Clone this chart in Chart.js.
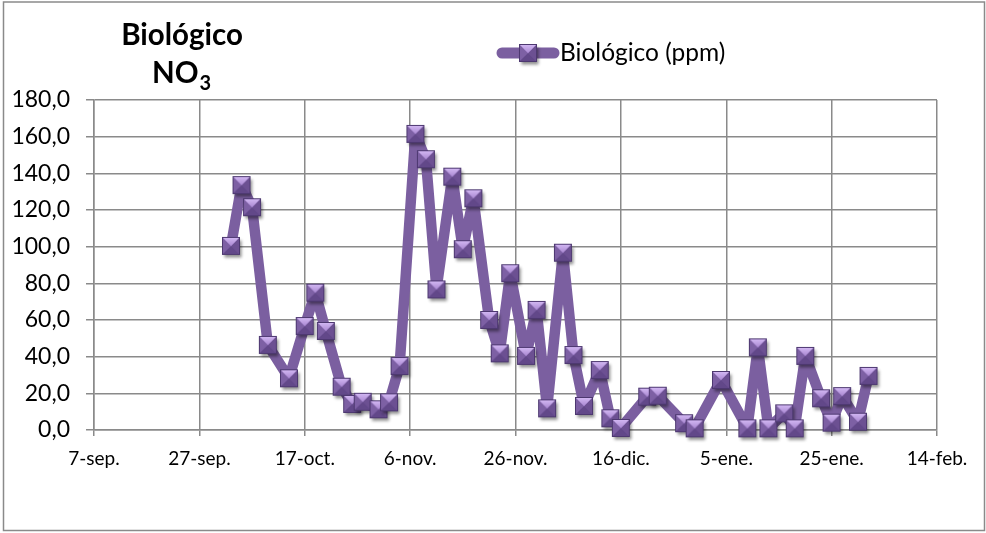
<!DOCTYPE html>
<html>
<head>
<meta charset="utf-8">
<script src="https://cdn.jsdelivr.net/npm/chart.js@4/dist/chart.umd.min.js"></script>
<style>
  html, body { margin: 0; padding: 0; background: #fff; }
  #wrap { width: 986px; height: 533px; }
</style>
</head>
<body>
<div id="wrap"><canvas id="c" width="986" height="533"></canvas></div>
<script>
// Sampling dates (biological treatment) and nitrate concentration, ppm
const sampleDates = [
  '2012-10-03','2012-10-05','2012-10-07','2012-10-10','2012-10-14','2012-10-17',
  '2012-10-19','2012-10-21','2012-10-24','2012-10-26','2012-10-28','2012-10-31',
  '2012-11-02','2012-11-04','2012-11-07','2012-11-09','2012-11-11','2012-11-14',
  '2012-11-16','2012-11-18','2012-11-21','2012-11-23','2012-11-25','2012-11-28',
  '2012-11-30','2012-12-02','2012-12-05','2012-12-07','2012-12-09','2012-12-12',
  '2012-12-14','2012-12-16','2012-12-21','2012-12-23','2012-12-28','2012-12-30',
  '2013-01-04','2013-01-09','2013-01-11','2013-01-13','2013-01-16','2013-01-18',
  '2013-01-20','2013-01-23','2013-01-25','2013-01-27','2013-01-30','2013-02-01'
];
const nitrateValues = [
  100.4, 133.6, 121.5, 46.4, 28.2, 56.7,
  74.9, 54.0, 23.6, 14.2, 15.4, 11.3,
  15.1, 34.9, 161.5, 147.7, 76.7, 138.2,
  98.6, 126.4, 60.0, 41.8, 85.5, 40.4,
  65.5, 11.8, 96.7, 40.9, 13.1, 32.7,
  6.4, 1.1, 18.2, 18.7, 3.7, 0.9,
  27.3, 0.9, 45.1, 0.9, 9.1, 0.9,
  40.4, 17.3, 4.0, 18.5, 4.5, 29.5
];
const axisStartDate = '2012-09-07';
const xTickLabels = ['7-sep.','27-sep.','17-oct.','6-nov.','26-nov.','16-dic.','5-ene.','25-ene.','14-feb.'];
const seriesName = 'Biológico (ppm)';

const DAY = 86400000;
function dayOffset(iso) {
  const p = iso.split('-').map(Number), q = axisStartDate.split('-').map(Number);
  return Math.round((Date.UTC(p[0], p[1] - 1, p[2]) - Date.UTC(q[0], q[1] - 1, q[2])) / DAY);
}
const points = sampleDates.map((d, i) => ({ x: dayOffset(d), y: nitrateValues[i] }));

const LINE = '#7b5fa0';
const FONT = 'Lato, "Open Sans", sans-serif';

// Bevelled square marker with soft drop shadow
function makeMarker() {
  const s = 18, pad = 6;
  const c = document.createElement('canvas');
  c.width = c.height = s + pad * 2;
  const g = c.getContext('2d');
  const x0 = pad, y0 = pad, x1 = pad + s, y1 = pad + s, cx = pad + s / 2, cy = pad + s * 0.52;
  g.save();
  g.shadowColor = 'rgba(0,0,0,0.45)';
  g.shadowBlur = 3; g.shadowOffsetX = 1.5; g.shadowOffsetY = 2.5;
  g.fillStyle = '#70549a';
  g.fillRect(x0, y0, s, s);
  g.restore();
  const tri = (a, b, col) => { g.beginPath(); g.moveTo(a[0], a[1]); g.lineTo(b[0], b[1]); g.lineTo(cx, cy); g.closePath(); g.fillStyle = col; g.fill(); };
  tri([x0, y0], [x0, y1], '#7d60a4');
  tri([x1, y0], [x1, y1], '#6c5092');
  tri([x0, y1], [x1, y1], '#624889');
  const gr = g.createLinearGradient(0, y0, 0, cy);
  gr.addColorStop(0, '#d6bcf6');
  gr.addColorStop(1, '#a886d0');
  tri([x0, y0], [x1, y0], gr);
  g.strokeStyle = '#4d3870';
  g.lineWidth = 1;
  g.strokeRect(x0 + 0.5, y0 + 0.5, s - 1, s - 1);
  return c;
}
const marker = makeMarker();

const decorations = {
  id: 'decorations',
  beforeDraw(chart) {
    const ctx = chart.ctx;
    ctx.save();
    ctx.fillStyle = '#fff';
    ctx.fillRect(0, 0, chart.width, chart.height);
    ctx.strokeStyle = '#8a8a8a';
    ctx.lineWidth = 1.5;
    ctx.strokeRect(3.5, 2, 981, 528.5);
    ctx.restore();
  },
  afterDraw(chart) {
    const ctx = chart.ctx;
    ctx.save();
    // Title: "Biológico" / "NO3" with subscript
    ctx.fillStyle = '#000';
    ctx.textBaseline = 'alphabetic';
    ctx.font = 'bold 29.5px ' + FONT;
    ctx.textAlign = 'center';
    ctx.fillText('Biológico', 182, 45);
    const main = 'NO', sub = '3';
    const wMain = ctx.measureText(main).width;
    ctx.font = 'bold 20px ' + FONT;
    const wSub = ctx.measureText(sub).width;
    const startX = 181 - (wMain + wSub) / 2;
    ctx.textAlign = 'left';
    ctx.font = 'bold 29.5px ' + FONT;
    ctx.fillText(main, startX, 83);
    ctx.font = 'bold 20px ' + FONT;
    ctx.fillText(sub, startX + wMain + 1, 90);

    // Legend
    ctx.strokeStyle = LINE;
    ctx.lineWidth = 11;
    ctx.lineCap = 'round';
    ctx.beginPath();
    ctx.moveTo(502, 53);
    ctx.lineTo(554, 53);
    ctx.stroke();
    ctx.drawImage(marker, 528 - marker.width / 2, 53 - marker.height / 2);
    ctx.fillStyle = '#000';
    ctx.font = '24.5px ' + FONT;
    ctx.textAlign = 'left';
    ctx.textBaseline = 'middle';
    ctx.fillText(seriesName, 560, 53);
    ctx.restore();
  }
};

new Chart(document.getElementById('c'), {
  type: 'line',
  data: {
    datasets: [{
      label: seriesName,
      data: points,
      borderColor: LINE,
      backgroundColor: LINE,
      borderWidth: 10.5,
      borderJoinStyle: 'round',
      borderCapStyle: 'round',
      tension: 0,
      pointStyle: marker,
      pointRadius: 9,
      pointHoverRadius: 9,
      clip: false
    }]
  },
  options: {
    responsive: false,
    animation: false,
    events: [],
    layout: { padding: { left: 0, right: 49, top: 100, bottom: 0 } },
    plugins: {
      legend: { display: false },
      title: { display: false },
      tooltip: { enabled: false }
    },
    scales: {
      x: {
        type: 'linear',
        min: 0,
        max: 160,
        afterFit(scale) { scale.height = 103; },
        border: { color: '#8a8a8a', width: 1.5 },
        grid: { color: '#8a8a8a', lineWidth: 1.5, tickLength: 6, tickColor: '#8a8a8a' },
        ticks: {
          stepSize: 20,
          autoSkip: false,
          maxRotation: 0,
          padding: 11,
          color: '#000',
          font: { family: FONT, size: 19 },
          callback: (v) => xTickLabels[Math.round(v / 20)] || ''
        }
      },
      y: {
        min: 0,
        max: 180,
        afterFit(scale) { scale.width = 94; },
        border: { color: '#8a8a8a', width: 1.5 },
        grid: { color: '#8a8a8a', lineWidth: 1.5, tickLength: 8, tickColor: '#8a8a8a' },
        ticks: {
          stepSize: 20,
          padding: 16,
          color: '#000',
          font: { family: FONT, size: 23 },
          callback: (v) => v.toFixed(1).replace('.', ',')
        }
      }
    }
  },
  plugins: [decorations]
});
</script>
</body>
</html>
